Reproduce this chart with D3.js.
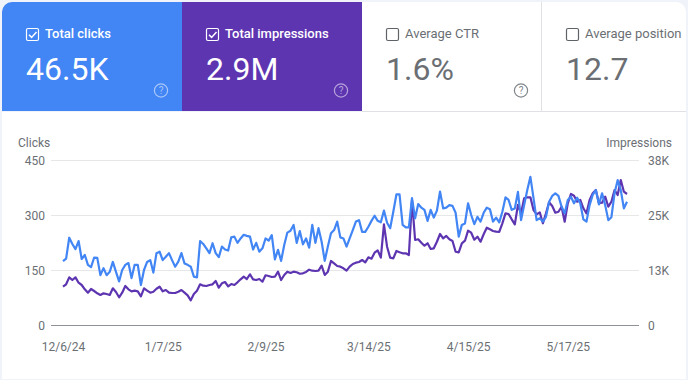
<!DOCTYPE html>
<html><head><meta charset="utf-8">
<script src="https://cdn.jsdelivr.net/npm/d3@7/dist/d3.min.js"></script>
<style>html,body{margin:0;padding:0;background:#f1f3fb;overflow:hidden}svg{display:block}text{font-family:Roboto,sans-serif}</style>
</head><body><svg id="c" width="688" height="380"></svg>
<script>
const startDate = "2024-12-06";
const clicks = [174,181,238,221,207,229,180,191,164,158,184,183,136,155,136,145,172,145,119,150,164,169,128,164,164,109,150,172,177,143,196,200,
177,186,196,177,159,173,196,168,164,159,132,130,229,221,209,196,223,196,185,214,206,203,239,241,224,236,246,243,241,206,
224,200,209,236,230,245,179,205,175,218,252,257,273,224,256,220,236,211,273,224,264,227,175,214,250,259,282,239,236,214,236,
259,282,286,254,254,268,284,298,284,280,312,279,264,309,356,356,273,266,266,346,291,330,320,314,284,314,293,312,364,318,
320,327,325,306,241,273,277,332,300,275,295,282,306,320,316,282,293,280,309,348,341,314,318,363,286,327,368,404,346,286,291,
282,295,336,352,359,352,323,305,341,350,332,347,332,288,282,327,355,368,329,359,327,286,294,359,395,368,318,336];
const impressions = [8820,9370,10980,10360,10980,9740,9210,8220,7440,8290,7830,7300,6910,7300,7140,6910,8450,7600,6380,7440,8980,8220,7760,7900,7760,6610,8450,7900,7440,7670,8360,8820,
7760,8060,7440,7370,7370,7670,8060,7440,6840,5690,7140,7900,9370,9050,8980,9210,9370,10130,8590,9600,9900,8910,9440,9210,9830,10520,11120,10590,11680,10520,
10360,10590,9970,11450,11280,11050,11120,12280,10360,11520,12280,11980,12280,12140,11810,11910,12210,12740,12510,12440,12510,13660,11520,12280,14740,14210,13590,13430,13060,12510,13430,
14050,14350,14510,14970,14440,15590,15270,16650,17200,15500,23190,18030,15500,15360,17040,16740,16510,16510,16120,28790,19580,19740,18950,18260,18820,17500,17660,19180,20960,19970,
20500,19740,19350,16880,16740,18820,19410,21720,21260,19640,20340,19180,20890,22410,22040,21650,21490,21420,23420,25720,25560,24340,23190,27640,25720,29180,29410,29410,26480,25490,25950,
23420,25720,28260,27410,25860,26090,27240,23790,28030,30170,29780,28400,28790,26880,25720,28790,30330,31090,28030,28170,29550,27240,28400,31090,29940,33390,30700,30170];
const dateTicks = ["2024-12-06","2025-01-07","2025-02-09","2025-03-14","2025-04-15","2025-05-17"];
const dateLabels = ["12/6/24","1/7/25","2/9/25","3/14/25","4/15/25","5/17/25"];
const leftTicks = [0,150,300,450];
const rightTicks = [0,12667,25333,38000];
const rightLabels = ["0","13K","25K","38K"];
const cardTitles = ["Total clicks","Total impressions","Average CTR","Average position"];
const cardValues = ["46.5K","2.9M","1.6%","12.7"];
const cardChecked = [true,true,false,false];
const cardHelp = [true,true,true,false];

const svg = d3.select("#c");
const parse = d3.utcParse("%Y-%m-%d");
const t0 = parse(startDate);
const dates = clicks.map((_,i)=>d3.utcDay.offset(t0,i));
const x = d3.scaleUtc().domain([t0,dates[dates.length-1]]).range([63,627]);
const yL = d3.scaleLinear().domain([0,450]).range([325,160]);
const yR = d3.scaleLinear().domain([0,38000]).range([325,160]);

// cards
const cardX = [2,182,362,542], cardW = [180,180,180,144];
const cardFill = ["#4285f4","#5e35b1","#ffffff","#ffffff"];
const clip = svg.append("defs").append("clipPath").attr("id","top");
clip.append("rect").attr("x",2).attr("y",2).attr("width",684).attr("height",130).attr("rx",10);
const topG = svg.append("g").attr("clip-path","url(#top)");
topG.selectAll("rect").data(cardX).join("rect")
  .attr("x",d=>d).attr("y",2).attr("width",(d,i)=>cardW[i]).attr("height",109)
  .attr("fill",(d,i)=>cardFill[i]);
svg.append("line").attr("x1",362).attr("x2",686).attr("y1",111.5).attr("y2",111.5).attr("stroke","#dfe1e5");
svg.append("line").attr("x1",541.5).attr("x2",541.5).attr("y1",2).attr("y2",111).attr("stroke","#dfe1e5");

cardX.forEach((cx,i)=>{
  const on = cardChecked[i];
  const g = svg.append("g").attr("transform",`translate(${cx},0)`);
  const lx = 24.5;
  g.append("rect").attr("x",lx).attr("y",28.5).attr("width",12).attr("height",12).attr("rx",1.5)
    .attr("fill","none").attr("stroke",on?"#fff":"#5f6368").attr("stroke-width",1.2);
  if(on) g.append("path").attr("d",`M${lx+2.5} 34.8l2.6 2.6l4.9-5.4`).attr("fill","none").attr("stroke","#fff").attr("stroke-width",1.5);
  g.append("text").attr("x",43).attr("y",38).attr("font-size",13).attr("font-weight",on?500:400)
    .attr("fill",on?"#fff":"#6b6f74").text(cardTitles[i]);
  g.append("text").attr("x",24).attr("y",80).attr("font-size",32).attr("fill",on?"#fff":"#6b6f74").text(cardValues[i]);
  if(cardHelp[i]){
    const col = on?"rgba(255,255,255,.55)":"#80868b";
    const h = g.append("g").attr("transform","translate(159,90.5)");
    h.append("circle").attr("r",6.6).attr("fill","none").attr("stroke",col).attr("stroke-width",1.2);
    h.append("text").attr("text-anchor","middle").attr("y",3.5).attr("font-size",10).attr("fill",col).text("?");
  }
});

// chart card
svg.append("rect").attr("x",2).attr("y",112).attr("width",684).attr("height",267).attr("fill","#fff");

const grid = svg.append("g");
grid.selectAll("line").data(leftTicks).join("line")
  .attr("x1",51).attr("x2",639).attr("y1",d=>Math.round(yL(d))+.5).attr("y2",d=>Math.round(yL(d))+.5)
  .attr("stroke",d=>d===0?"#8e9196":"#e6e7e9");

const axL = svg.append("g").attr("transform","translate(45,0.5)")
  .call(d3.axisLeft(yL).tickValues(leftTicks).tickSize(0).tickPadding(0));
const axR = svg.append("g").attr("transform","translate(648,0.5)")
  .call(d3.axisRight(yR).tickValues(rightTicks).tickSize(0).tickPadding(0).tickFormat((d,i)=>rightLabels[i]));
const axB = svg.append("g").attr("transform","translate(0,339)")
  .call(d3.axisBottom(x).tickValues(dateTicks.map(d=>parse(d))).tickSize(0).tickPadding(3).tickFormat((d,i)=>dateLabels[i]));
[axL,axR,axB].forEach(a=>{a.select(".domain").remove();
  a.selectAll("text").attr("font-size",12).attr("fill","#6b6f74").style("font-family","Roboto,sans-serif");});

svg.append("text").attr("x",18).attr("y",147).attr("font-size",12).attr("fill","#6b6f74").text("Clicks");
svg.append("text").attr("x",672).attr("y",147).attr("text-anchor","end").attr("font-size",12).attr("fill","#6b6f74").text("Impressions");

const line = (y)=>d3.line().x((d,i)=>x(dates[i])).y(d=>y(d));
svg.append("path").datum(impressions).attr("d",line(yR)).attr("fill","none").attr("stroke","#5e35b1").attr("stroke-width",2.2).attr("stroke-linejoin","round");
svg.append("path").datum(clicks).attr("d",line(yL)).attr("fill","none").attr("stroke","#4285f4").attr("stroke-width",2.2).attr("stroke-linejoin","round");
</script></body></html>
